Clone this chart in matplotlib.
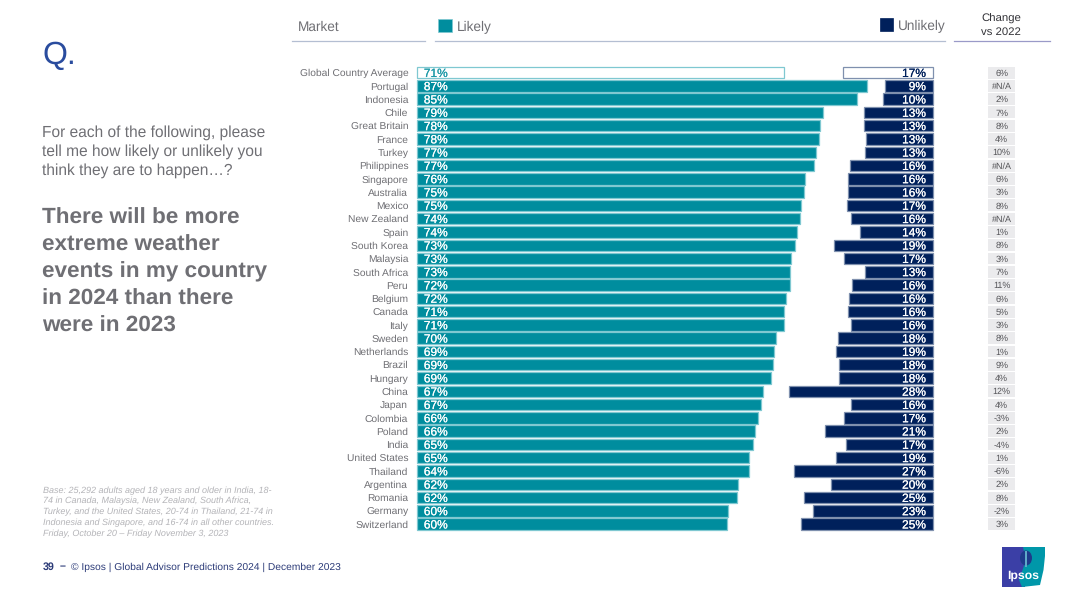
import matplotlib
matplotlib.use("Agg")
import matplotlib.pyplot as plt
import matplotlib.patheffects as pe
from matplotlib.patches import Polygon, Rectangle, Ellipse

plt.rcParams['font.family'] = ['Liberation Sans', 'DejaVu Sans']
plt.rcParams['text.hinting'] = 'none'
plt.rcParams['text.hinting_factor'] = 8

markets = ["Global Country Average", "Portugal", "Indonesia", "Chile", "Great Britain", "France", "Turkey",
           "Philippines", "Singapore", "Australia", "Mexico", "New Zealand", "Spain", "South Korea", "Malaysia",
           "South Africa", "Peru", "Belgium", "Canada", "Italy", "Sweden", "Netherlands", "Brazil", "Hungary",
           "China", "Japan", "Colombia", "Poland", "India", "United States", "Thailand", "Argentina", "Romania",
           "Germany", "Switzerland"]
likely = [71.0, 87.2, 85.1, 78.7, 78.0, 77.8, 77.2, 76.8, 75.2, 74.9, 74.3, 74.1, 73.5, 73.2, 72.5, 72.3, 72.2,
          71.4, 71.1, 71.0, 69.6, 69.2, 68.9, 68.5, 67.0, 66.6, 66.0, 65.5, 65.0, 64.3, 64.3, 62.2, 62.0, 60.2, 60.1]
unlikely = [17.3, 9.2, 9.6, 13.2, 13.2, 12.9, 13.0, 16.0, 16.3, 16.3, 16.6, 15.8, 14.0, 19.0, 17.1, 13.0, 15.6,
            16.1, 16.3, 15.7, 18.3, 18.7, 18.1, 18.1, 27.7, 15.8, 17.1, 20.8, 16.7, 18.6, 26.8, 19.6, 24.8, 23.2, 25.5]
likely_labels = ["71%", "87%", "85%", "79%", "78%", "78%", "77%", "77%", "76%", "75%", "75%", "74%", "74%", "73%",
                 "73%", "73%", "72%", "72%", "71%", "71%", "70%", "69%", "69%", "69%", "67%", "67%", "66%", "66%",
                 "65%", "65%", "64%", "62%", "62%", "60%", "60%"]
unlikely_labels = ["17%", "9%", "10%", "13%", "13%", "13%", "13%", "16%", "16%", "16%", "17%", "16%", "14%", "19%",
                   "17%", "13%", "16%", "16%", "16%", "16%", "18%", "19%", "18%", "18%", "28%", "16%", "17%", "21%",
                   "17%", "19%", "27%", "20%", "25%", "23%", "25%"]
change_labels = ["6%", "#N/A", "2%", "7%", "8%", "4%", "10%", "#N/A", "6%", "3%", "8%", "#N/A", "1%", "8%", "3%",
                 "7%", "11%", "6%", "5%", "3%", "8%", "1%", "9%", "4%", "12%", "4%", "-3%", "2%", "-4%", "1%",
                 "-6%", "2%", "8%", "-2%", "3%"]

W, H = 1080, 607
TEAL, TEAL_EDGE = "#008D9E", "#7FC8D1"
NAVY, NAVY_EDGE = "#00205B", "#7F90AE"
GREY, LGREY = "#6F6F74", "#B4B4B8"
FOOT = "#2C3B78"

fig = plt.figure(figsize=(W / 100, H / 100), dpi=100, facecolor="white")

# Full-figure layer in pixel units for the slide furniture
bg = fig.add_axes([0, 0, 1, 1])
bg.set_xlim(0, W)
bg.set_ylim(H, 0)
bg.axis("off")

ROW0, STEP = 72.6, 13.28
n = len(markets)
TOP, BOTTOM = ROW0 - STEP / 2, ROW0 + STEP * (n - 0.5)
SCALE = 5.17


def band(left, width):
    ax = fig.add_axes([left / W, 1 - BOTTOM / H, width / W, (BOTTOM - TOP) / H])
    ax.patch.set_alpha(0)
    ax.set_ylim(n - 0.5, -0.5)
    for s in ax.spines.values():
        s.set_visible(False)
    ax.set_xticks([])
    ax.set_yticks([])
    return ax


def fatten(color):
    return [pe.withStroke(linewidth=0.12, foreground=color)]


rows = list(range(n))
BW = 0.86

# Likely
a1 = band(416.6, 100 * SCALE)
a1.set_xlim(0, 100)
a1.barh(rows, likely, height=BW, color=[("white" if i == 0 else TEAL) for i in rows],
        edgecolor=TEAL_EDGE, linewidth=0.9, clip_on=False)
a1.set_yticks(rows, markets, fontsize=7.35, color=GREY)
a1.tick_params(axis="y", length=0, pad=6.0)
for i, t in enumerate(likely_labels):
    c = "#1E9AA8" if i == 0 else "white"
    a1.annotate(t, (0, i), xytext=(5.2, -0.9), textcoords="offset points", ha="left", va="center",
                fontsize=8.6, color=c, path_effects=fatten(c))

# Unlikely: grows leftwards from the shared right edge
a2 = band(932.5 - 100 * SCALE, 100 * SCALE)
a2.set_xlim(100, 0)
a2.barh(rows, unlikely, height=BW, color=[("white" if i == 0 else NAVY) for i in rows],
        edgecolor=NAVY_EDGE, linewidth=0.9, clip_on=False)
for i, t in enumerate(unlikely_labels):
    c = NAVY if i == 0 else "white"
    a2.annotate(t, (0, i), xytext=(-4.8, -0.9), textcoords="offset points", ha="right", va="center",
                fontsize=8.6, color=c, path_effects=fatten(c))

# Change vs 2022
a3 = band(988, 27.4)
a3.set_xlim(0, 1)
a3.barh(rows, [1] * n, height=0.9, color="#EBEBED", linewidth=0)
for i, t in enumerate(change_labels):
    a3.text(0.5, i + 0.06, t, ha="center", va="center", fontsize=6.5, color="#555559")

# Column headers
bg.text(298, 27, "Market", fontsize=9.8, color=GREY, va="center")
bg.text(457, 27, "Likely", fontsize=9.8, color=GREY, va="center")
bg.text(898, 26, "Unlikely", fontsize=9.8, color=GREY, va="center")
bg.text(1001, 19, "Change", fontsize=8.2, color="#333338", va="center", ha="center")
bg.text(1001, 32.5, "vs 2022", fontsize=8.2, color="#333338", va="center", ha="center")
bg.add_patch(Rectangle((438, 19), 13.5, 13, fc=TEAL, ec=TEAL_EDGE, lw=0.5))
bg.add_patch(Rectangle((879.5, 18), 13, 13, fc=NAVY, ec=NAVY, lw=0.5))
bg.plot([292, 425], [41, 41], color="#B4BED2", lw=0.9)
bg.plot([435, 945], [41, 41], color="#B4BED2", lw=0.9)
bg.plot([954, 1050], [41, 41], color="#9A9AC8", lw=0.9)

# Left column
bg.text(42, 56, "Q.", fontsize=23, color="#2A4C9E", va="center")
for y, t in zip([132.5, 151.5, 170.5], ["For each of the following, please", "tell me how likely or unlikely you",
                                        "think they are to happen\u2026?"]):
    bg.text(42, y, t, fontsize=11.2, color=GREY, va="center")
for y, t in zip([218, 245, 272, 299, 326], ["There will be more", "extreme weather", "events in my country",
                                            "in 2024 than there", "were in 2023"]):
    bg.text(42, y, t, fontsize=16.2, color=GREY, va="center", fontweight="bold")
for y, t in zip([490.5, 501, 512, 523, 533.5], ["Base: 25,292 adults aged 18 years and older in India, 18-",
                                                "74 in Canada, Malaysia, New Zealand, South Africa,",
                                                "Turkey, and the United States, 20-74 in Thailand, 21-74 in",
                                                "Indonesia and Singapore, and 16-74 in all other countries.",
                                                "Friday, October 20 \u2013 Friday November 3, 2023"]):
    bg.text(43, y, t, fontsize=6.5, color=LGREY, va="center", style="italic")

# Footer
bg.text(43, 567, "39", fontsize=7.7, color=FOOT, va="center", fontweight="bold")
bg.text(60, 567, "\u2013", fontsize=7.7, color=FOOT, va="center", fontweight="bold")
bg.text(71, 567, "\u00a9 Ipsos | Global Advisor Predictions 2024 | December 2023", fontsize=7.4,
        color=FOOT, va="center")

# Logo
bg.add_patch(Polygon([(1002, 547), (1025, 547), (1025, 587), (1002, 587)], fc="#3B3FA6", ec="none"))
bg.add_patch(Polygon([(1023, 547), (1045, 547), (1045, 556), (1043.5, 570), (1040, 585), (1022, 587),
                      (1019, 580), (1026, 560)], fc="#0097A9", ec="none"))
bg.add_patch(Ellipse((1026, 558), 12, 15, fc="#1E3A8A", ec="none"))
bg.add_patch(Rectangle((1024.5, 551), 2.2, 16, fc="#5FA8C8", ec="none"))
bg.text(1023, 575.5, "Ipsos", fontsize=8.8, color="white", fontweight="bold", ha="center", va="center")

fig.savefig("out.png", dpi=100, facecolor="white")
